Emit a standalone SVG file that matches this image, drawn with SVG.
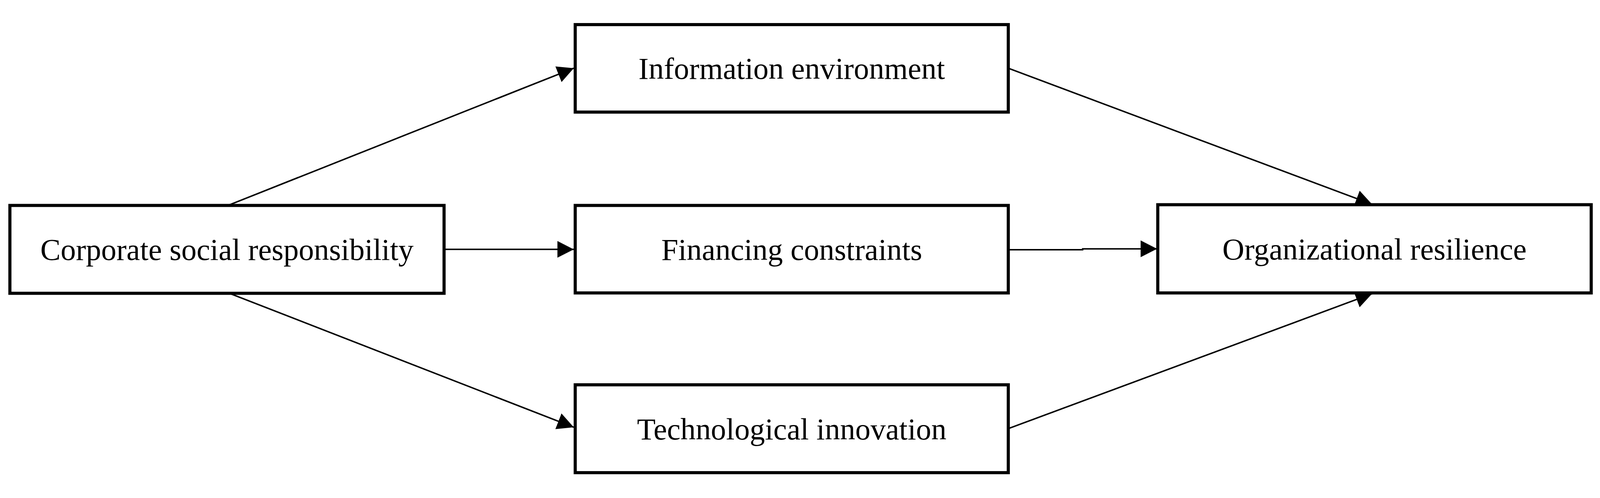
<svg xmlns="http://www.w3.org/2000/svg" width="4367" height="1276" viewBox="0 0 4367 1276">
<style>
svg{max-width:100vw;max-height:100vh}
.box{fill:#fff;stroke:#000;stroke-width:8.5}
.lbl{font-family:"Liberation Serif","Times New Roman",serif;font-size:83px;fill:#000;text-anchor:middle}
.edge{fill:none;stroke:#000;stroke-width:4}
</style>
<defs>
<marker id="ah" markerUnits="userSpaceOnUse" markerWidth="46" markerHeight="46" refX="45" refY="23" orient="auto">
<path d="M0,0 L45,23 L0,46 z" fill="#000"/>
</marker>
</defs>
<rect width="4367" height="1276" fill="#fff"/>
<g id="connectors">
<line class="edge" x1="622" y1="519" x2="1566" y2="144" marker-end="url(#ah)"/>
<line class="edge" x1="1212" y1="639" x2="1566" y2="639" marker-end="url(#ah)"/>
<line class="edge" x1="626" y1="759" x2="1566" y2="1125" marker-end="url(#ah)"/>
<line class="edge" x1="2754" y1="145" x2="3745" y2="516" marker-end="url(#ah)"/>
<polyline class="edge" points="2754,640 2955,640 2955,637.5 3158,637.5" marker-end="url(#ah)"/>
<line class="edge" x1="2754" y1="1128" x2="3745" y2="760" marker-end="url(#ah)"/>
</g>
<g id="csr">
<rect class="box" x="27" y="519" width="1185" height="240"/>
<text class="lbl" x="619.5" y="668">Corporate social responsibility</text>
</g>
<g id="info">
<rect class="box" x="1570" y="25" width="1182" height="239"/>
<text class="lbl" x="2161" y="173">Information environment</text>
</g>
<g id="fin">
<rect class="box" x="1570" y="519" width="1182" height="239"/>
<text class="lbl" x="2161" y="668">Financing constraints</text>
</g>
<g id="tech">
<rect class="box" x="1570" y="1009" width="1182" height="240"/>
<text class="lbl" x="2161" y="1158">Technological innovation</text>
</g>
<g id="org">
<rect class="box" x="3160" y="517" width="1183" height="241"/>
<text class="lbl" x="3751.5" y="667">Organizational resilience</text>
</g>
</svg>
